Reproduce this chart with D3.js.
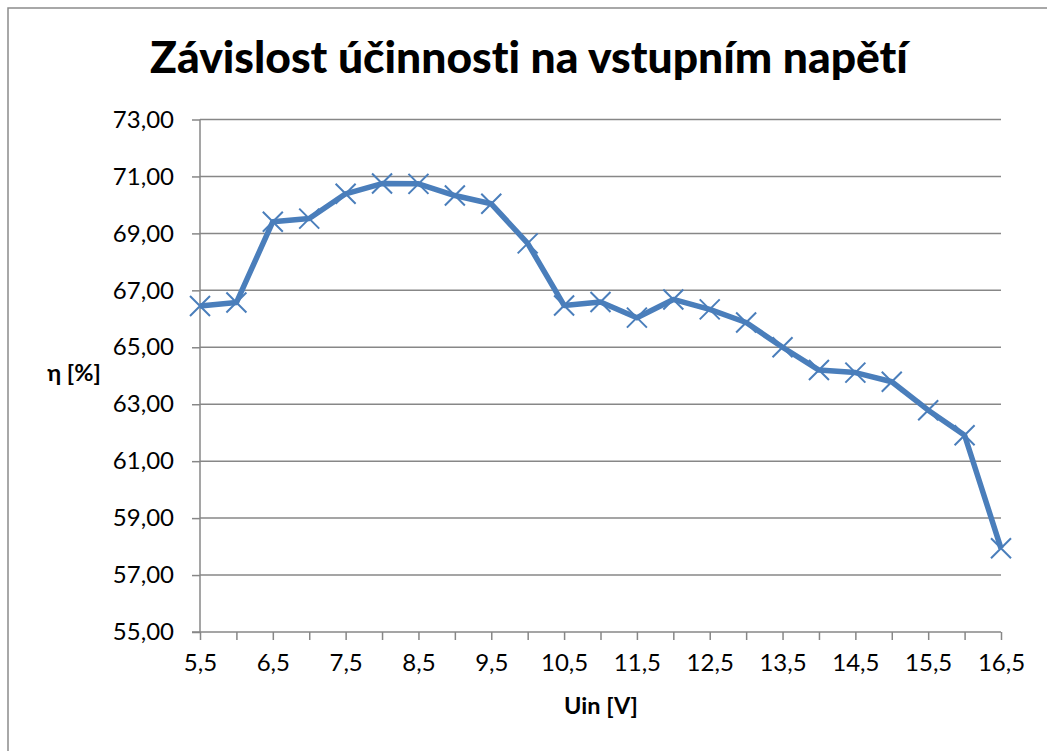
<!DOCTYPE html>
<html>
<head>
<meta charset="utf-8">
<script src="https://cdn.jsdelivr.net/npm/d3@7"></script>
<style>
html,body{margin:0;padding:0;background:#fff;}
svg{display:block;}
text{font-family:Lato,"Open Sans",sans-serif;fill:#000;font-variant-ligatures:none;}
</style>
</head>
<body>
<svg id="chart" width="1047" height="751"></svg>
<script>
const title = "Závislost účinnosti na vstupním napětí";
const xTitle = "Uin [V]";
const yTitle = "η [%]";
const uin = [5.5, 6, 6.5, 7, 7.5, 8, 8.5, 9, 9.5, 10, 10.5, 11, 11.5, 12, 12.5, 13, 13.5, 14, 14.5, 15, 15.5, 16, 16.5];
const eta = [66.45, 66.57, 69.41, 69.52, 70.39, 70.75, 70.74, 70.33, 70.04, 68.65, 66.47, 66.59, 66.04, 66.68, 66.33, 65.87, 65.0, 64.2, 64.11, 63.79, 62.79, 61.91, 57.94];
const yTicks = [55, 57, 59, 61, 63, 65, 67, 69, 71, 73];
const xLabels = [5.5, 6.5, 7.5, 8.5, 9.5, 10.5, 11.5, 12.5, 13.5, 14.5, 15.5, 16.5];

const svg = d3.select("#chart");
const pLeft = 200, pRight = 1001, pTop = 119.5, pBottom = 632;
const x = d3.scaleLinear().domain([5.5, 16.5]).range([pLeft, pRight]);
const y = d3.scaleLinear().domain([55, 73]).range([pBottom, pTop]);
const gridColor = "#878787";
const fmtY = d => d.toFixed(2).replace(".", ",");
const fmtX = d => String(d).replace(".", ",");

// outer border
svg.append("path").attr("d", "M8,751 V8 H1047")
  .attr("fill", "none").attr("stroke", "#8c8c8c").attr("stroke-width", 1.5);

// gridlines
svg.append("g").selectAll("line").data(yTicks.filter(d => d !== 55)).join("line")
  .attr("x1", pLeft).attr("x2", pRight)
  .attr("y1", d => y(d)).attr("y2", d => y(d))
  .attr("stroke", gridColor).attr("stroke-width", 1.5);

// y axis
const yAxis = d3.axisLeft(y).tickValues(yTicks).tickFormat(fmtY).tickSize(8).tickPadding(18);
const gy = svg.append("g").attr("transform", `translate(${pLeft},0)`).call(yAxis);
gy.select(".domain").attr("stroke", gridColor).attr("stroke-width", 1.5).attr("d", `M0,${pTop}V${pBottom}`);
gy.selectAll(".tick line").attr("stroke", gridColor).attr("stroke-width", 1.5);
gy.selectAll(".tick text").style("font-family", "Lato,'Open Sans',sans-serif").style("font-size", "24px").attr("fill", "#000");

// x axis
const xAxis = d3.axisBottom(x).tickValues(uin).tickFormat(d => xLabels.includes(d) ? fmtX(d) : "").tickSize(8).tickPadding(14);
const gx = svg.append("g").attr("transform", `translate(0,${pBottom})`).call(xAxis);
gx.select(".domain").attr("stroke", gridColor).attr("stroke-width", 1.5).attr("d", `M${pLeft - 8},0H${pRight}`);
gx.selectAll(".tick line").attr("stroke", gridColor).attr("stroke-width", 1.5);
gx.selectAll(".tick text").style("font-family", "Lato,'Open Sans',sans-serif").style("font-size", "24px").attr("fill", "#000");

// line
const color = "#4a7ebb";
const line = d3.line().x((d, i) => x(uin[i])).y(d => y(d));
svg.append("path").datum(eta).attr("d", line)
  .attr("fill", "none").attr("stroke", color).attr("stroke-width", 5.5).attr("stroke-linejoin", "round");

// X markers
const m = 10;
svg.append("g").selectAll("path").data(eta).join("path")
  .attr("d", (d, i) => {
    const cx = x(uin[i]), cy = y(d);
    return `M${cx - m},${cy - m}L${cx + m},${cy + m}M${cx - m},${cy + m}L${cx + m},${cy - m}`;
  })
  .attr("stroke", color).attr("stroke-width", 2).attr("fill", "none");

// title
const t = svg.append("text").attr("x", 529).attr("y", 73).attr("text-anchor", "middle")
  .style("font-weight", "900").style("font-size", "36px").text(title);
const w = t.node().getComputedTextLength();
t.style("font-size", (36 * 758 / w).toFixed(2) + "px");

// axis titles
svg.append("text").attr("x", 74).attr("y", 381).attr("text-anchor", "middle")
  .style("font-weight", "bold").style("font-size", "23.5px").text(yTitle);
svg.append("text").attr("x", 601).attr("y", 714).attr("text-anchor", "middle")
  .style("font-weight", "bold").style("font-size", "23.5px").text(xTitle);
</script>
</body>
</html>
